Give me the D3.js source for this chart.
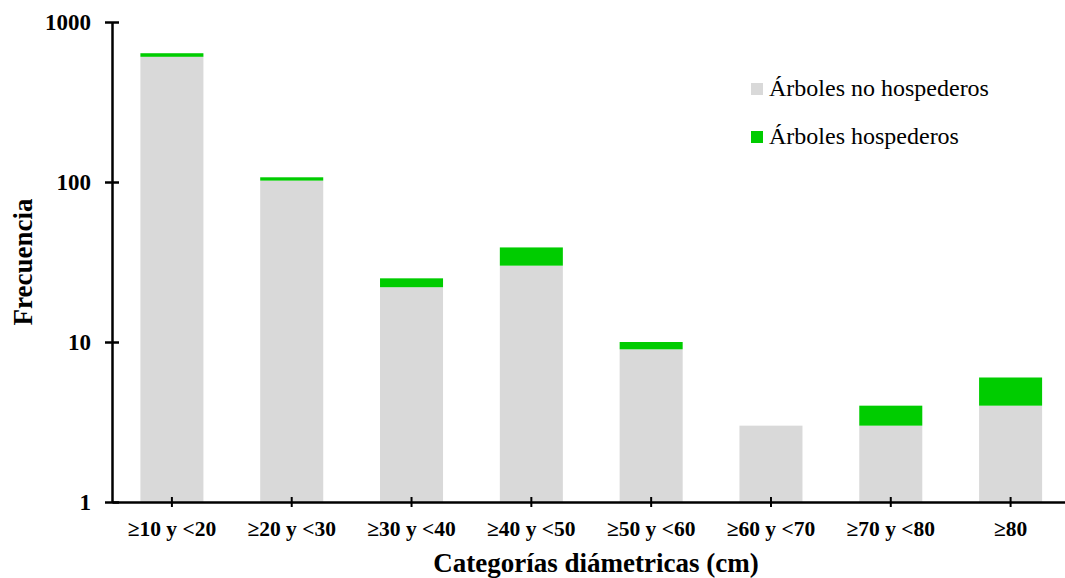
<!DOCTYPE html>
<html>
<head>
<meta charset="utf-8">
<script src="https://cdn.jsdelivr.net/npm/d3@7"></script>
<style>
  html, body { margin: 0; padding: 0; background: #fff; }
  svg { display: block; font-family: "Liberation Serif", "Times New Roman", serif; }
</style>
</head>
<body>
<svg id="chart" width="1065" height="578"></svg>
<script>
// Diameter classes and tree counts per class
const categories = ["≥10 y <20", "≥20 y <30", "≥30 y <40", "≥40 y <50", "≥50 y <60", "≥60 y <70", "≥70 y <80", "≥80"];
const noHospederos = [606, 102, 22, 30, 9, 3, 3, 4];
const hospederos = [32, 5, 3, 9, 1, 0, 1, 2];
const seriesNames = ["Árboles no hospederos", "Árboles hospederos"];
const yTicks = [1, 10, 100, 1000];

const colors = ["#d9d9d9", "#00cc00"];

const svg = d3.select("#chart");
const margin = { left: 112, top: 22, bottom: 502, right: 1070.5 };

const x = d3.scaleBand()
  .domain(categories)
  .range([margin.left, margin.right])
  .paddingInner(0.474)
  .paddingOuter(0.237);

const y = d3.scaleLog()
  .domain([1, 1000])
  .range([margin.bottom, margin.top]);

// Stack the two series
const rows = categories.map((c, i) => ({ cat: c, no: noHospederos[i], si: hospederos[i] }));
const stack = d3.stack().keys(["no", "si"]);
const layers = stack(rows);

svg.append("g")
  .selectAll("g")
  .data(layers)
  .join("g")
  .attr("fill", (d, i) => colors[i])
  .selectAll("rect")
  .data(d => d.filter(p => p[1] > p[0]))
  .join("rect")
  .attr("x", d => x(d.data.cat))
  .attr("width", x.bandwidth())
  .attr("y", d => y(d[1]))
  .attr("height", d => y(Math.max(1, d[0])) - y(d[1]));

// Y axis
const yAxis = svg.append("g")
  .attr("transform", `translate(${margin.left},0)`)
  .call(d3.axisLeft(y).tickValues(yTicks).tickFormat(d3.format("d")).tickSizeInner(7).tickSizeOuter(0).tickPadding(14));
yAxis.select(".domain").attr("stroke", "#000").attr("stroke-width", 2.5);
yAxis.selectAll(".tick line").attr("stroke", "#000").attr("stroke-width", 2.5).attr("x1", -7).attr("x2", 7);
yAxis.selectAll(".tick text")
  .attr("fill", "#000")
  .style("font-size", "23px")
  .style("font-weight", "bold")
  .style("font-family", "Liberation Serif, serif")
  .attr("dy", "0.32em");

// X axis
const xAxis = svg.append("g")
  .attr("transform", `translate(0,${margin.bottom})`)
  .call(d3.axisBottom(x).tickSizeInner(5).tickSizeOuter(0).tickPadding(14));
xAxis.select(".domain").attr("stroke", "#000").attr("stroke-width", 2.5);
xAxis.selectAll(".tick line").attr("stroke", "#000").attr("stroke-width", 2).attr("y1", -5).attr("y2", 5);
xAxis.selectAll(".tick text")
  .attr("fill", "#000")
  .style("font-size", "21.5px")
  .style("font-weight", "bold")
  .style("font-family", "Liberation Serif, serif");

// Axis titles
svg.append("text")
  .attr("x", 596)
  .attr("y", 572)
  .attr("text-anchor", "middle")
  .style("font-size", "27px")
  .style("font-weight", "bold")
  .text("Categorías diámetricas (cm)");

svg.append("text")
  .attr("transform", "translate(32,262) rotate(-90)")
  .attr("text-anchor", "middle")
  .style("font-size", "27px")
  .style("font-weight", "bold")
  .text("Frecuencia");

// Legend
const legend = svg.append("g");
seriesNames.forEach((name, i) => {
  const g = legend.append("g").attr("transform", `translate(751,${83 + i * 48})`);
  g.append("rect").attr("width", 12).attr("height", 12).attr("fill", colors[i]);
  g.append("text")
    .attr("x", 18)
    .attr("y", 13)
    .style("font-size", "24px")
    .text(name);
});
</script>
</body>
</html>
